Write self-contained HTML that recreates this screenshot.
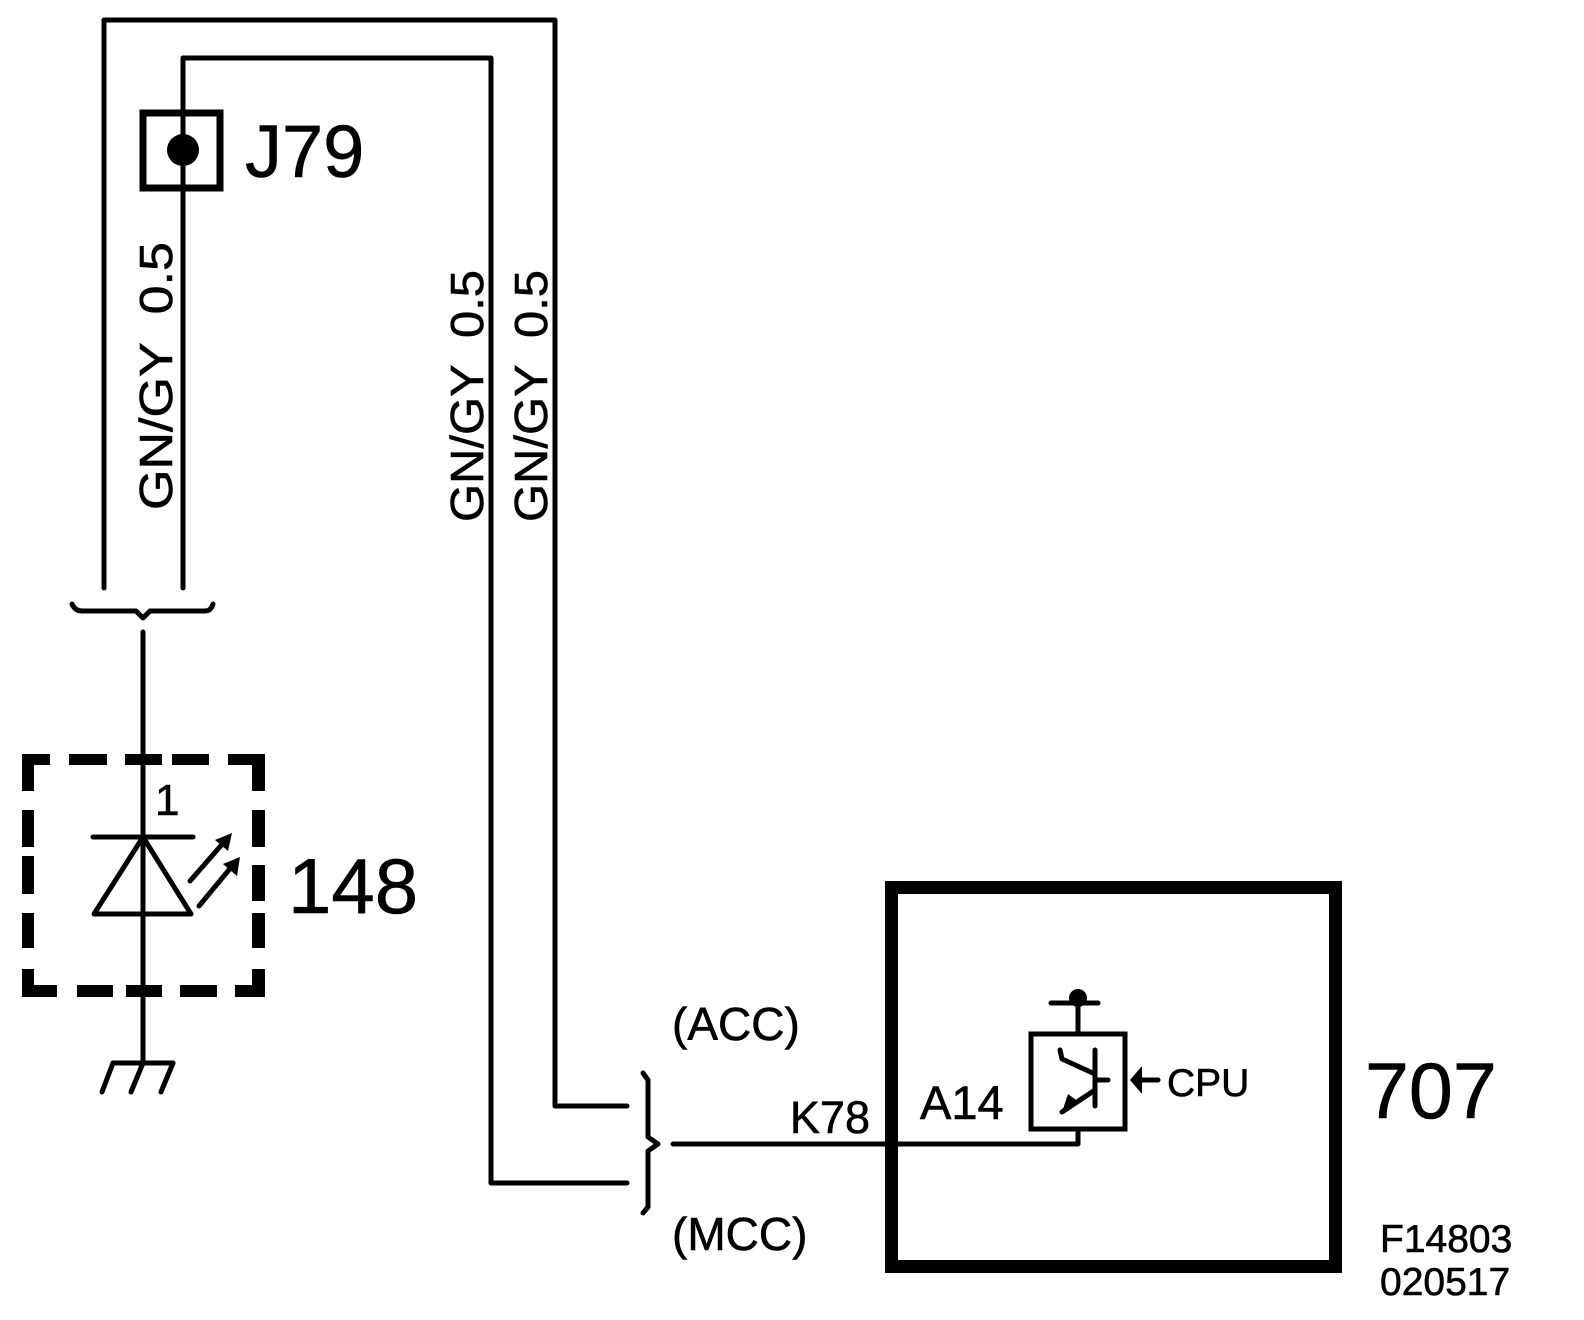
<!DOCTYPE html>
<html><head><meta charset="utf-8"><style>
html,body{margin:0;padding:0;background:#fff;}
svg{display:block;}
text{font-family:"Liberation Sans",Arial,sans-serif;fill:#000;stroke:#000;stroke-width:0.6;}
</style></head><body>
<svg width="1584" height="1320" viewBox="0 0 1584 1320" xmlns="http://www.w3.org/2000/svg">
<g fill="none" stroke="#000" stroke-width="5" stroke-linejoin="round" stroke-linecap="round">
  <polyline points="104,588 104,20 555,20 555,1106 627,1106"/>
  <polyline points="183,588 183,58 491,58 491,1183 627,1183"/>
  <rect x="143" y="113" width="77" height="75" stroke-width="7" stroke-linecap="butt" stroke-linejoin="miter"/>
  <path d="M72,604 Q75,611 82,611 L136,611 L143,618 L150,611 L205,611 Q211,611 213,604"/>
  <line x1="143" y1="632" x2="143" y2="1063"/>
  <line x1="93" y1="837" x2="193" y2="837"/>
  <polygon points="143,837 94,914 191,914"/>
  <line x1="190" y1="881" x2="225" y2="841"/>
  <line x1="199" y1="906" x2="233" y2="865"/>
  <line x1="113" y1="1063" x2="173" y2="1063"/>
  <line x1="113" y1="1063" x2="102" y2="1092"/>
  <line x1="143" y1="1063" x2="131" y2="1092"/>
  <line x1="173" y1="1063" x2="161" y2="1092"/>
  <path d="M643,1073 L648,1080 L648,1137 L658,1144 L648,1151 L648,1207 L643,1213"/>
  <polyline points="673,1144 1078,1144 1078,1131"/>
  <rect x="1031" y="1034" width="94" height="95" stroke-width="5" stroke-linejoin="miter"/>
  <line x1="1078" y1="1034" x2="1078" y2="1003"/>
  <line x1="1051" y1="1003" x2="1098" y2="1003"/>
  <line x1="1095" y1="1050" x2="1095" y2="1106"/>
  <line x1="1095" y1="1080" x2="1108" y2="1080"/>
  <polyline points="1060,1050 1062,1059 1095,1074"/>
  <line x1="1062" y1="1112" x2="1095" y2="1090"/>
  <line x1="1158" y1="1080" x2="1140" y2="1080"/>
  <rect x="891.5" y="887.5" width="444" height="379" stroke-width="13" stroke-linejoin="miter"/>
</g>
<g fill="#000">
  <circle cx="183" cy="150" r="16"/>
  <circle cx="1078" cy="998" r="9"/>
  <polygon points="1130,1080 1142,1066 1142,1094"/>
  <polygon points="1062,1112 1068,1094 1080,1103"/>
  <polygon points="232,833 228,851 215,840"/>
  <polygon points="240,857 237,876 223,864"/>
  <!-- dashed box 148 -->
  <rect x="22" y="754" width="28" height="11"/>
  <rect x="69" y="754" width="38" height="11"/>
  <rect x="125" y="754" width="37" height="11"/>
  <rect x="172" y="754" width="37" height="11"/>
  <rect x="228" y="754" width="37" height="11"/>
  <rect x="22" y="754" width="12" height="37"/>
  <rect x="22" y="810" width="12" height="37"/>
  <rect x="22" y="856" width="12" height="38"/>
  <rect x="22" y="913" width="12" height="35"/>
  <rect x="22" y="969" width="12" height="28"/>
  <rect x="252" y="754" width="13" height="37"/>
  <rect x="252" y="810" width="13" height="37"/>
  <rect x="252" y="865" width="13" height="36"/>
  <rect x="252" y="913" width="13" height="35"/>
  <rect x="252" y="969" width="13" height="28"/>
  <rect x="22" y="985" width="35" height="12"/>
  <rect x="77" y="985" width="36" height="12"/>
  <rect x="126" y="985" width="36" height="12"/>
  <rect x="180" y="985" width="37" height="12"/>
  <rect x="235" y="985" width="30" height="12"/>
</g>
<text x="245" y="177" font-size="74">J79</text>
<text x="155" y="815" font-size="44">1</text>
<text x="288" y="913" font-size="78">148</text>
<text transform="translate(172,510) rotate(-90)" font-size="46" textLength="268" lengthAdjust="spacingAndGlyphs" xml:space="preserve">GN/GY  0.5</text>
<text transform="translate(483,522) rotate(-90)" font-size="46" textLength="252" lengthAdjust="spacingAndGlyphs" xml:space="preserve">GN/GY  0.5</text>
<text transform="translate(547,522) rotate(-90)" font-size="46" textLength="252" lengthAdjust="spacingAndGlyphs" xml:space="preserve">GN/GY  0.5</text>
<text x="672" y="1040" font-size="46">(ACC)</text>
<text x="672" y="1250" font-size="46">(MCC)</text>
<text x="870" y="1133" font-size="45" text-anchor="end">K78</text>
<text x="920" y="1119" font-size="47">A14</text>
<text x="1167" y="1096" font-size="39">CPU</text>
<text x="1365" y="1118" font-size="79">707</text>
<text x="1380" y="1252" font-size="39">F14803</text>
<text x="1380" y="1295" font-size="39">020517</text>
</svg>
</body></html>
